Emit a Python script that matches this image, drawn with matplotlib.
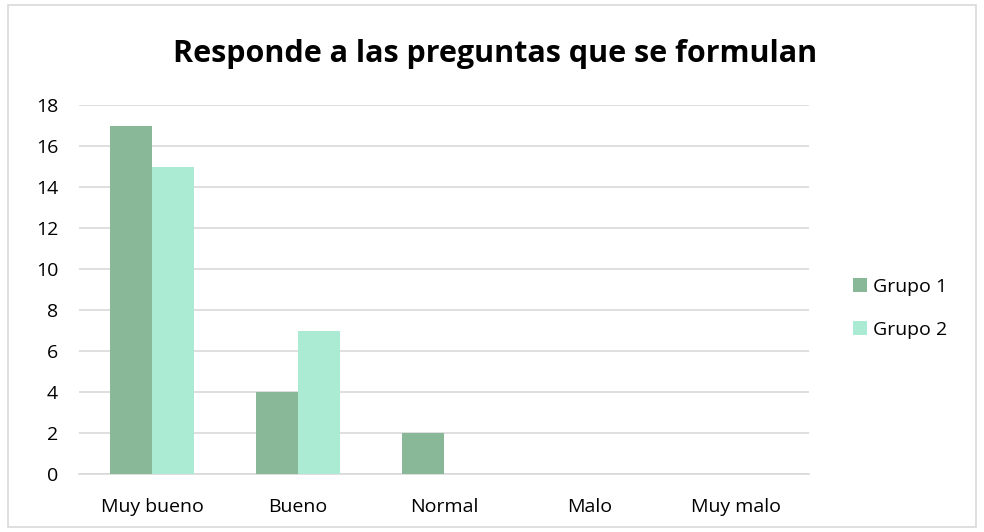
import matplotlib
matplotlib.use("Agg")
import matplotlib.pyplot as plt
from matplotlib.patches import Rectangle
import numpy as np

categories = ["Muy bueno", "Bueno", "Normal", "Malo", "Muy malo"]
grupo1 = [17, 4, 2, 0, 0]
grupo2 = [15, 7, 0, 0, 0]
series_names = ["Grupo 1", "Grupo 2"]
yticks = [0, 2, 4, 6, 8, 10, 12, 14, 16, 18]
title = "Responde a las preguntas que se formulan"

col1 = "#88B898"
col2 = "#ABEBD3"
grid_col = "#D9D9D9"

plt.rcParams['font.family'] = ['Open Sans', 'DejaVu Sans']

W, H = 984, 532
fig = plt.figure(figsize=(W / 100, H / 100), dpi=100)
fig.patch.set_facecolor("white")

# outer border
fig.patches.append(Rectangle((8 / W, 5 / H), (976 - 8) / W, (527 - 5) / H,
                             transform=fig.transFigure, fill=False,
                             edgecolor="#D9D9D9", linewidth=1.2))

left, right = 79, 809
top, bottom = 105, 474
ax = fig.add_axes([left / W, (H - bottom) / H, (right - left) / W, (bottom - top) / H])

x = np.arange(len(categories))
bw = 42 / 146
ax.bar(x - bw / 2, grupo1, width=bw, color=col1, label=series_names[0], zorder=3)
ax.bar(x + bw / 2, grupo2, width=bw, color=col2, label=series_names[1], zorder=3)

ax.set_xlim(-0.5, len(categories) - 0.5)
ax.set_ylim(0, 18)
ax.set_yticks(yticks)
ax.set_xticks(x)
ax.set_xticklabels(categories)
ax.yaxis.grid(True, color=grid_col, linewidth=1.2, zorder=0)
ax.set_axisbelow(True)
for s in ["top", "right", "left"]:
    ax.spines[s].set_visible(False)
ax.spines["bottom"].set_color(grid_col)
ax.spines["bottom"].set_linewidth(1.2)
ax.tick_params(axis="both", length=0, labelsize=14, colors="black")
ax.tick_params(axis="y", pad=15)
ax.tick_params(axis="x", pad=17)

fig.text(495 / W, 1 - 61.7 / H, title, ha="center", va="baseline",
         fontsize=22, fontweight="bold", color="black")

leg = fig.legend(loc="center left", bbox_to_anchor=(835 / W, 1 - 308.5 / H),
                 frameon=False, fontsize=14,
                 handlelength=0.72, handleheight=0.72, handletextpad=0.35,
                 labelspacing=1.3)

fig.savefig("out.png", dpi=100, facecolor="white")
